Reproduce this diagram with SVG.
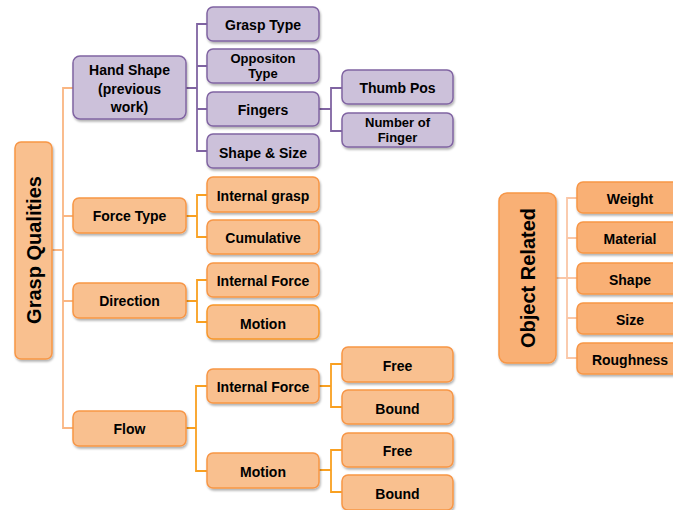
<svg xmlns="http://www.w3.org/2000/svg" width="673" height="510" viewBox="0 0 673 510">
<defs>
<filter id="sh" x="-10%" y="-10%" width="130%" height="140%">
<feDropShadow dx="1" dy="2" stdDeviation="1" flood-color="#000" flood-opacity="0.3"/>
</filter>
</defs>
<style>
.o rect{fill:#F9C08F;stroke:#F79646;stroke-width:1.5;filter:url(#sh)}
.p rect{fill:#CCC1DA;stroke:#8064A2;stroke-width:1.5;filter:url(#sh)}
.r rect{fill:#F9B074;stroke:#F79646;stroke-width:1.5;filter:url(#sh)}
text{font-family:"Liberation Sans",Arial,sans-serif;font-weight:bold;font-size:14px;fill:#000;text-anchor:middle;dominant-baseline:central}
.big{font-size:20px}
.sm{font-size:13px}
.c1{fill:none;stroke:#FAB682;stroke-width:1.8}
.c2{fill:none;stroke:#F9A021;stroke-width:1.8}
.c3{fill:none;stroke:#8064A2;stroke-width:1.8}
.c4{fill:none;stroke:#FAC6A6;stroke-width:1.8}
</style>
<g id="connectors">
<path class="c1" d="M52,250H63M73,88H63V428H73M63,216H73M63,301H73"/>
<path class="c3" d="M186,88H197M207,24H197V151H207M197,66H207M197,109H207"/>
<path class="c3" d="M319,109H331M342,88H331V131H342"/>
<path class="c2" d="M186,216H197M207,195H197V237H207"/>
<path class="c2" d="M186,301H197M207,280H197V322H207"/>
<path class="c2" d="M186,428H196M207,386H196V471H207"/>
<path class="c2" d="M319,386H331M342,364H331V407H342"/>
<path class="c2" d="M319,470H331M342,450H331V492H342"/>
<path class="c4" d="M556,278H567M577,198H567V358H577M567,238H577M567,278H577M567,318H577"/>
</g>
<g id="grasp-qualities" class="o"><rect x="15" y="142" width="37" height="217" rx="6"/><text class="big" transform="translate(34,250) rotate(-90)">Grasp Qualities</text></g>
<g id="hand-shape" class="p"><rect x="73" y="56" width="113" height="63" rx="7"/><text x="129.5" y="70">Hand Shape</text><text x="129.5" y="89">(previous</text><text x="129.5" y="107">work)</text></g>
<g id="force-type" class="o"><rect x="73" y="198" width="113" height="35" rx="6"/><text x="129.5" y="216">Force Type</text></g>
<g id="direction" class="o"><rect x="73" y="283" width="113" height="35" rx="6"/><text x="129.5" y="301">Direction</text></g>
<g id="flow" class="o"><rect x="73" y="411" width="113" height="35" rx="6"/><text x="129.5" y="429">Flow</text></g>
<g id="grasp-type" class="p"><rect x="207" y="7" width="112" height="34" rx="6"/><text x="263" y="25">Grasp Type</text></g>
<g id="oppositon-type" class="p"><rect x="207" y="49" width="112" height="34" rx="6"/><text class="sm" x="263" y="58.5">Oppositon</text><text class="sm" x="263" y="73.5">Type</text></g>
<g id="fingers" class="p"><rect x="207" y="92" width="112" height="34" rx="6"/><text x="263" y="110">Fingers</text></g>
<g id="shape-size" class="p"><rect x="207" y="134" width="112" height="34" rx="6"/><text x="263" y="153">Shape &amp; Size</text></g>
<g id="thumb-pos" class="p"><rect x="342" y="70" width="111" height="34" rx="6"/><text x="397.5" y="88">Thumb Pos</text></g>
<g id="number-of-finger" class="p"><rect x="342" y="113" width="111" height="34" rx="6"/><text class="sm" x="397.5" y="122.5">Number of</text><text class="sm" x="397.5" y="137.5">Finger</text></g>
<g id="internal-grasp" class="o"><rect x="207" y="177" width="112" height="35" rx="6"/><text x="263" y="196">Internal grasp</text></g>
<g id="cumulative" class="o"><rect x="207" y="220" width="112" height="34" rx="6"/><text x="263" y="238">Cumulative</text></g>
<g id="direction-internal-force" class="o"><rect x="207" y="263" width="112" height="34" rx="6"/><text x="263" y="281">Internal Force</text></g>
<g id="direction-motion" class="o"><rect x="207" y="305" width="112" height="34" rx="6" style="stroke:#F7962A"/><text x="263" y="324">Motion</text></g>
<g id="flow-internal-force" class="o"><rect x="207" y="369" width="112" height="34" rx="6"/><text x="263" y="387">Internal Force</text></g>
<g id="flow-motion" class="o"><rect x="207" y="453" width="112" height="35" rx="6"/><text x="263" y="472">Motion</text></g>
<g id="if-free" class="o"><rect x="342" y="347" width="111" height="35" rx="6"/><text x="397.5" y="366">Free</text></g>
<g id="if-bound" class="o"><rect x="342" y="390" width="111" height="34" rx="6"/><text x="397.5" y="409">Bound</text></g>
<g id="m-free" class="o"><rect x="342" y="433" width="111" height="34" rx="6"/><text x="397.5" y="451">Free</text></g>
<g id="m-bound" class="o"><rect x="342" y="475" width="111" height="35" rx="6"/><text x="397.5" y="494">Bound</text></g>
<g id="object-related" class="r"><rect x="499" y="193" width="57" height="170" rx="8"/><text class="big" transform="translate(528,278) rotate(-90)">Object Related</text></g>
<g id="weight" class="r"><rect x="577" y="182" width="106" height="31" rx="6"/><text x="630" y="199">Weight</text></g>
<g id="material" class="r"><rect x="577" y="222" width="106" height="31" rx="6"/><text x="630" y="239">Material</text></g>
<g id="shape" class="r"><rect x="577" y="263" width="106" height="31" rx="6"/><text x="630" y="280">Shape</text></g>
<g id="size" class="r"><rect x="577" y="303" width="106" height="31" rx="6"/><text x="630" y="320">Size</text></g>
<g id="roughness" class="r"><rect x="577" y="343" width="106" height="31" rx="6"/><text x="630" y="360">Roughness</text></g>
</svg>
